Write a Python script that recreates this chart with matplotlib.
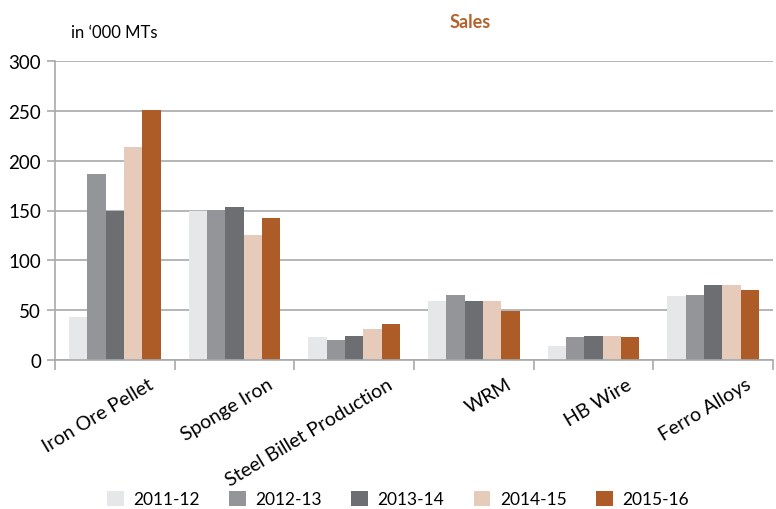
import numpy as np
import matplotlib.pyplot as plt

plt.rcParams['font.family'] = ['Lato', 'DejaVu Sans']

categories = ['Iron Ore Pellet', 'Sponge Iron', 'Steel Billet Production',
              'WRM', 'HB Wire', 'Ferro Alloys']
years = ['2011-12', '2012-13', '2013-14', '2014-15', '2015-16']
sales_2011 = [43, 149, 23, 59, 14, 64]
sales_2012 = [187, 151, 20, 65, 23, 65]
sales_2013 = [149, 154, 24, 59, 24, 75]
sales_2014 = [214, 125, 31, 59, 24, 75]
sales_2015 = [251, 142, 36, 49, 23, 70]
series = [sales_2011, sales_2012, sales_2013, sales_2014, sales_2015]
colors = ['#e6e7e8', '#939598', '#6d6e71', '#e6cbbb', '#ad5b27']

fig = plt.figure(figsize=(7.76, 5.1), dpi=100)
ax = fig.add_axes([55 / 776, 1 - 361 / 510, (773 - 55) / 776, 299 / 510])

x = np.arange(len(categories))
w = 0.153
for i, (vals, c) in enumerate(zip(series, colors)):
    ax.bar(x + (i - 2) * w, vals, w, color=c, label=years[i], zorder=2)

ax.set_xlim(-0.5, len(categories) - 0.5)
ax.set_ylim(0, 300)
ax.set_yticks(range(0, 301, 50))
ax.yaxis.grid(True, color='#a7a9ac', linewidth=1.2, zorder=0)
for s in ['top', 'right']:
    ax.spines[s].set_visible(False)
for s in ['left', 'bottom']:
    ax.spines[s].set_color('#a7a9ac')
    ax.spines[s].set_linewidth(1.2)

# boundaries between categories get the tick marks, labels sit a bit right
# of the centres (like the excel original)
ax.set_xticks(np.arange(-0.5, len(categories)))
ax.set_xticklabels([])
ax.tick_params(axis='x', length=7, color='#a7a9ac', width=1.2)
ax.set_xticks(x + 0.27, minor=True)
ax.set_xticklabels(categories, minor=True, rotation=31, ha='right',
                   rotation_mode='anchor', fontsize=14)
ax.tick_params(axis='x', which='minor', length=0, pad=11)
ax.tick_params(axis='y', length=6, color='#a7a9ac', width=1.2, labelsize=13.5,
               pad=4)

fig.text(71 / 776, 1 - 33 / 510, "in \u2018000 MTs", fontsize=12, va='center')
fig.text(470 / 776, 1 - 22 / 510, 'Sales', fontsize=13, fontweight='bold',
         color='#b5612c', ha='center', va='center')

fig.legend(loc='center', bbox_to_anchor=(398 / 776, 1 - 500 / 510), ncol=5,
           frameon=False, fontsize=12.5, handlelength=0.95, handleheight=0.95,
           handletextpad=0.55, columnspacing=1.7, borderpad=0.2)

fig.savefig('out.png', dpi=100)
